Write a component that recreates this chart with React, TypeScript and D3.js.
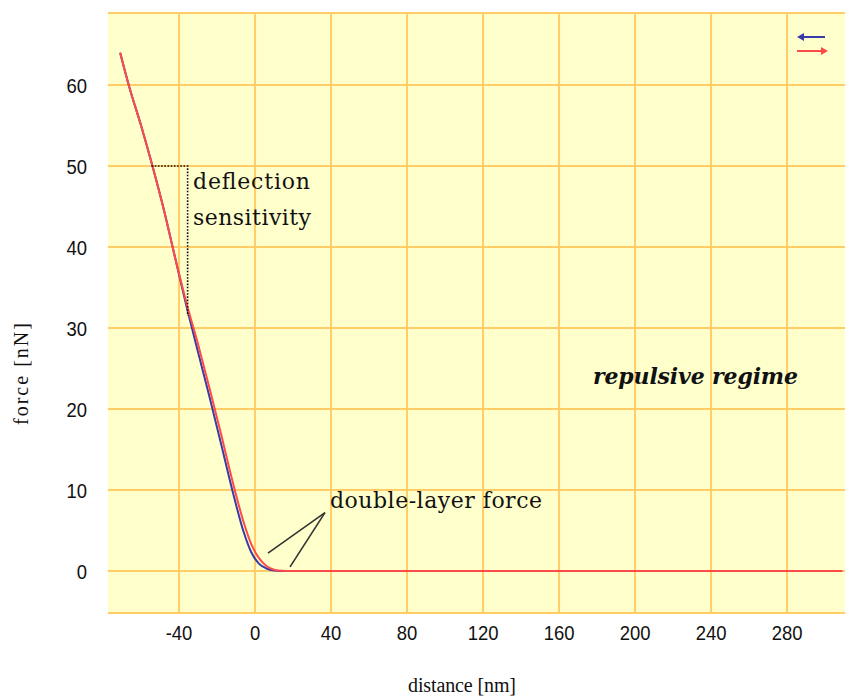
import React from "react";
import * as d3 from "d3";

// Force–distance curve: approach (blue) and retract (red) of an AFM tip
const approachDistance = [-71, -66, -60, -54, -48, -42, -36, -30, -24, -18, -12, -6, -2, 2, 6, 10, 13, 309];
const approachForce = [64, 59.6, 55, 50, 44.6, 38.6, 32.6, 27, 21.5, 15.8, 10, 4.8, 2.3, 0.9, 0.3, 0.05, 0, 0];
const retractDistance = [-71, -66, -60, -54, -48, -42, -36, -30, -24, -18, -12, -6, -2, 2, 6, 10, 14, 17, 309];
const retractForce = [64, 59.6, 55, 50, 44.6, 38.6, 33, 28, 22.6, 17, 11.2, 6, 3.3, 1.6, 0.6, 0.15, 0.02, 0, 0];

const xTicks = [-40, 0, 40, 80, 120, 160, 200, 240, 280];
const yTicks = [0, 10, 20, 30, 40, 50, 60];

// Deflection-sensitivity construction (distance, force)
const sensitivityPath = [[-54.5, 50], [-35.5, 50], [-35.5, 31.5]];
// Pointer lines to the double-layer region
const pointerTip = [36.8, 7.2];
const pointerTargets = [[6.8, 2.2], [18.4, 0.5]];

const W = 845;
const H = 697;
const plot = { left: 108, right: 842, top: 13, bottom: 613 };

const x = d3.scaleLinear().domain([-77.4, 308.9]).range([plot.left, plot.right]);
const y = d3.scaleLinear().domain([-5.2, 68.9]).range([plot.bottom, plot.top]);

const gridColor = "#ffcc66";
const bg = "#ffffcc";
const blue = "#3a3aa8";
const red = "#ff4a4a";

export default function App() {
  const line = d3
    .line<[number, number]>()
    .x((d) => x(d[0]))
    .y((d) => y(d[1]))
    .curve(d3.curveMonotoneX);

  const approach = approachDistance.map((d, i) => [d, approachForce[i]] as [number, number]);
  const retract = retractDistance.map((d, i) => [d, retractForce[i]] as [number, number]);

  const dotted = d3
    .line<number[]>()
    .x((d) => x(d[0]))
    .y((d) => y(d[1]))(sensitivityPath);

  const tickFont = "'Liberation Sans', sans-serif";
  const annFont = "'DejaVu Serif', serif";

  return (
    <svg
      width={W}
      height={H}
      style={{ position: "absolute", left: 0, top: 0, background: "#fff" }}
    >
      <rect
        x={plot.left}
        y={plot.top}
        width={plot.right - plot.left + 3}
        height={plot.bottom - plot.top}
        fill={bg}
      />
      {/* grid */}
      {xTicks.map((t) => (
        <line
          key={"gx" + t}
          x1={x(t)}
          x2={x(t)}
          y1={plot.top}
          y2={plot.bottom}
          stroke={gridColor}
          strokeWidth={2}
        />
      ))}
      {yTicks.map((t) => (
        <line
          key={"gy" + t}
          x1={plot.left}
          x2={W}
          y1={y(t)}
          y2={y(t)}
          stroke={gridColor}
          strokeWidth={2}
        />
      ))}
      <line x1={plot.left} x2={W} y1={plot.top} y2={plot.top} stroke={gridColor} strokeWidth={2} />
      <line x1={plot.left} x2={W} y1={plot.bottom} y2={plot.bottom} stroke={gridColor} strokeWidth={2} />

      {/* tick labels */}
      {xTicks.map((t) => (
        <text
          key={"tx" + t}
          x={x(t)}
          y={640}
          textAnchor="middle"
          fontFamily={tickFont}
          fontSize={21}
          fill="#111"
          transform={`translate(${x(t)},0) scale(0.88,1) translate(${-x(t)},0)`}
        >
          {t}
        </text>
      ))}
      {yTicks.map((t) => (
        <text
          key={"ty" + t}
          x={87}
          y={y(t) + 8}
          textAnchor="end"
          fontFamily={tickFont}
          fontSize={21}
          fill="#111"
          transform={`translate(87,0) scale(0.88,1) translate(-87,0)`}
        >
          {t}
        </text>
      ))}

      {/* axis titles */}
      <text
        x={462}
        y={692}
        textAnchor="middle"
        fontFamily="'Liberation Serif', serif"
        fontSize={20}
        fill="#111"
        textLength={108}
        lengthAdjust="spacing"
      >
        distance [nm]
      </text>
      <text
        transform={`translate(28, 374) rotate(-90)`}
        textAnchor="middle"
        fontFamily="'Liberation Serif', serif"
        fontSize={20}
        fill="#111"
        textLength={102}
        lengthAdjust="spacing"
      >
        force [nN]
      </text>

      {/* curves */}
      <path d={line(approach) || ""} fill="none" stroke={blue} strokeWidth={2} />
      <path d={line(retract) || ""} fill="none" stroke={red} strokeWidth={2} />

      {/* deflection sensitivity */}
      <path d={dotted || ""} fill="none" stroke="#111" strokeWidth={1.6} strokeDasharray="1.6,1.6" />
      <text x={193} y={189} fontFamily={annFont} fontSize={22} fill="#111" textLength={117} lengthAdjust="spacing">
        deflection
      </text>
      <text x={193} y={225} fontFamily={annFont} fontSize={22} fill="#111" textLength={118} lengthAdjust="spacing">
        sensitivity
      </text>

      {/* double-layer force */}
      {pointerTargets.map((p, i) => (
        <line
          key={"pt" + i}
          x1={x(p[0])}
          y1={y(p[1])}
          x2={x(pointerTip[0])}
          y2={y(pointerTip[1])}
          stroke="#333"
          strokeWidth={1.6}
        />
      ))}
      <text x={330} y={508} fontFamily={annFont} fontSize={22} fill="#111" textLength={212} lengthAdjust="spacing">
        double-layer force
      </text>

      <text
        x={593}
        y={384}
        fontFamily={annFont}
        fontSize={22}
        fontWeight="bold"
        fontStyle="italic"
        fill="#111"
        textLength={205}
        lengthAdjust="spacing"
      >
        repulsive regime
      </text>

      {/* legend arrows */}
      <g>
        <line x1={800} x2={825} y1={37} y2={37} stroke={blue} strokeWidth={2} />
        <path d="M797,37 L804,33 L804,41 Z" fill={blue} />
        <line x1={797} x2={823} y1={51} y2={51} stroke={red} strokeWidth={2} />
        <path d="M828,51 L821,47 L821,55 Z" fill={red} />
      </g>
    </svg>
  );
}
